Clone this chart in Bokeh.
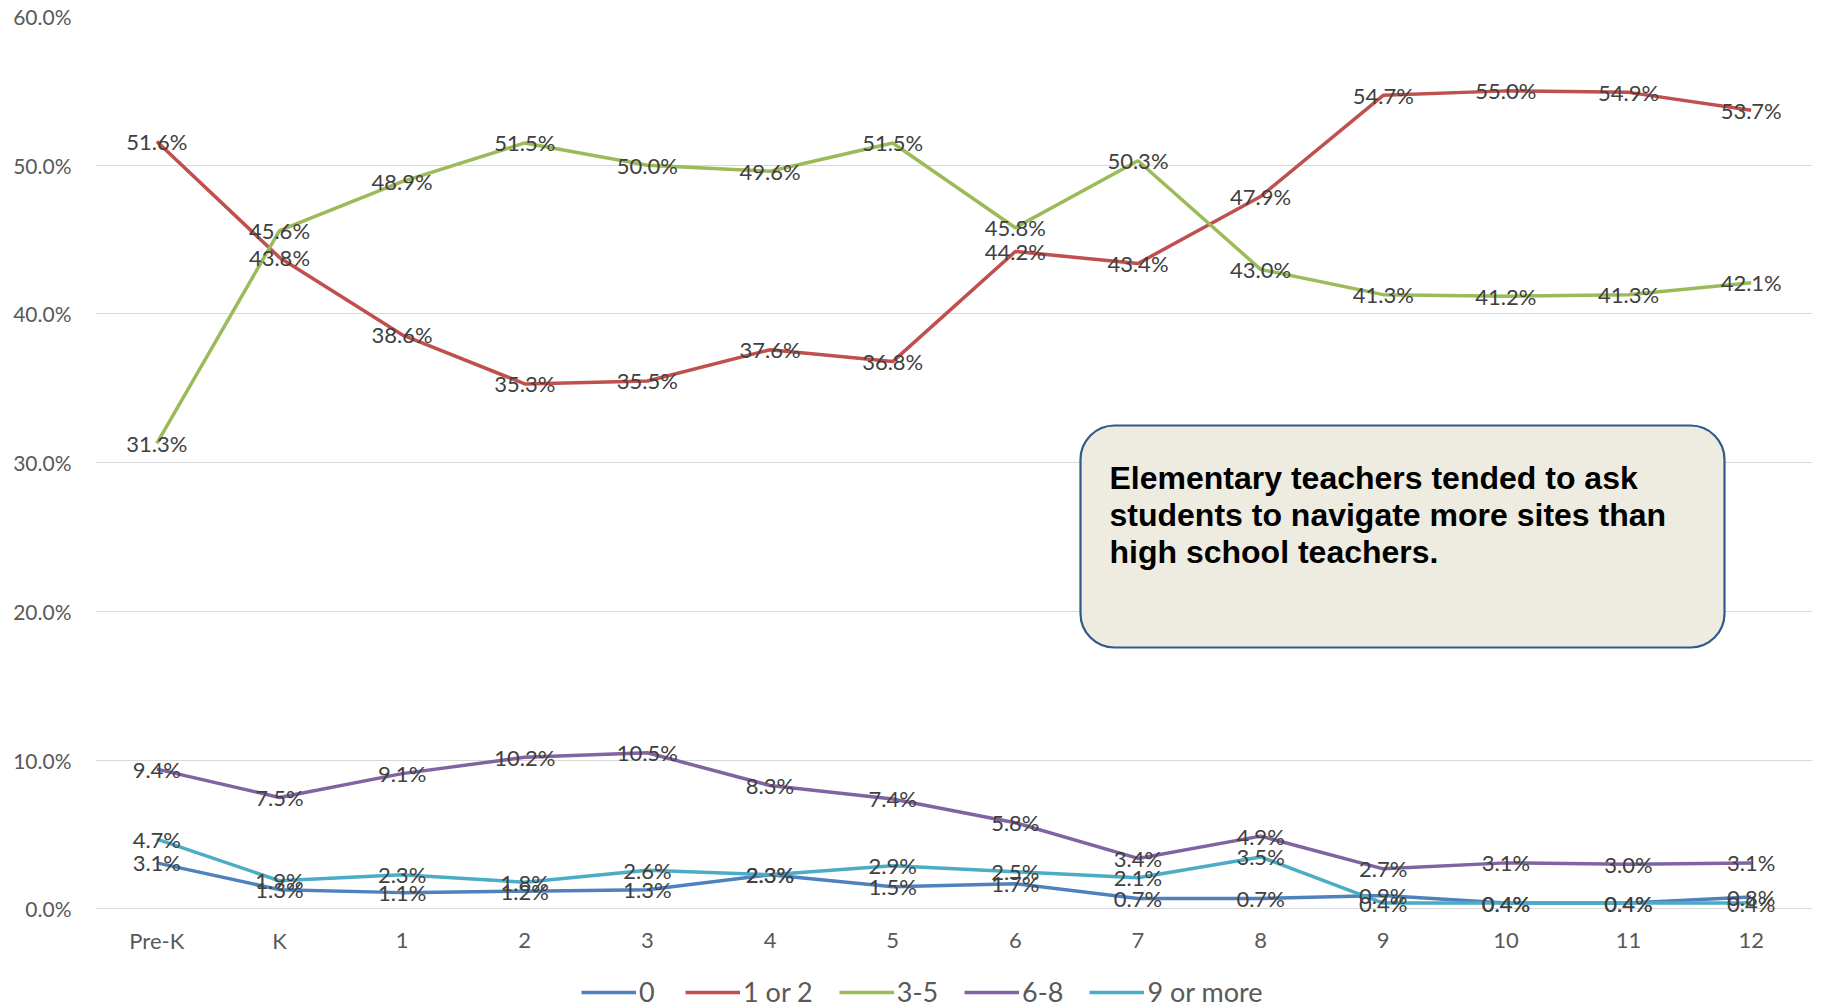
from bokeh.plotting import figure
from bokeh.models import (ColumnDataSource, FactorRange, Range1d, FixedTicker,
                          PrintfTickFormatter, LabelSet, Legend, LegendItem,
                          BoxAnnotation, Label)
from bokeh.core.properties import value
from bokeh.embed import file_html
from bokeh.resources import INLINE

# ---------------- data ----------------
grades = ["Pre-K", "K", "1", "2", "3", "4", "5", "6", "7", "8", "9", "10", "11", "12"]
series_names = ["0", "1 or 2", "3-5", "6-8", "9 or more"]
v_0 = [3.1, 1.3, 1.1, 1.2, 1.3, 2.3, 1.5, 1.7, 0.7, 0.7, 0.9, 0.4, 0.4, 0.8]
v_1or2 = [51.6, 43.8, 38.6, 35.3, 35.5, 37.6, 36.8, 44.2, 43.4, 47.9, 54.7, 55.0, 54.9, 53.7]
v_3to5 = [31.3, 45.6, 48.9, 51.5, 50.0, 49.6, 51.5, 45.8, 50.3, 43.0, 41.3, 41.2, 41.3, 42.1]
v_6to8 = [9.4, 7.5, 9.1, 10.2, 10.5, 8.3, 7.4, 5.8, 3.4, 4.9, 2.7, 3.1, 3.0, 3.1]
v_9plus = [4.7, 1.9, 2.3, 1.8, 2.6, 2.3, 2.9, 2.5, 2.1, 3.5, 0.4, 0.4, 0.4, 0.4]
y_ticks = [0, 10, 20, 30, 40, 50, 60]
note_lines = ["Elementary teachers tended to ask",
              "students to navigate more sites than",
              "high school teachers."]

series_values = [v_0, v_1or2, v_3to5, v_6to8, v_9plus]
colors = ["#4F81BD", "#C0504D", "#9BBB59", "#8064A2", "#4BACC6"]

FONT = "Lato"

# plot frame runs to the bottom of the canvas; the space under 0% holds the
# category labels and the legend
p = figure(width=1824, height=1008,
           x_range=FactorRange(*grades, range_padding=0),
           y_range=Range1d(-6.69, 60),
           x_axis_location=None,
           output_backend="svg", toolbar_location=None, title=None,
           min_border_left=95, min_border_right=12, min_border_top=16,
           min_border_bottom=0)
p.outline_line_color = None
p.background_fill_color = "white"
p.border_fill_color = "white"

# y axis
p.yaxis.ticker = FixedTicker(ticks=y_ticks)
p.yaxis.formatter = PrintfTickFormatter(format="%.1f%%")
p.yaxis.axis_line_color = None
p.yaxis.major_tick_line_color = None
p.yaxis.minor_tick_line_color = None
p.yaxis.major_label_standoff = 18
p.yaxis.major_label_text_font = FONT
p.yaxis.major_label_text_font_size = "21px"
p.yaxis.major_label_text_color = "#595959"

p.xgrid.grid_line_color = None
p.ygrid.ticker = FixedTicker(ticks=y_ticks)
p.ygrid.grid_line_color = "#D9D9D9"
p.ygrid.grid_line_width = 1

data = {"grade": grades, "zero": [0] * len(grades)}
for i, vals in enumerate(series_values):
    data[f"s{i}"] = vals
    data[f"s{i}_lbl"] = [f"{v:.1f}%" for v in vals]
src = ColumnDataSource(data)

# category labels under the 0% line
p.add_layout(LabelSet(x="grade", y="zero", text="grade", source=src, y_offset=-31.5,
                      text_align="center", text_baseline="middle",
                      text_font=value(FONT), text_font_size="22px",
                      text_color="#595959"))

renderers = []
for i, c in enumerate(colors):
    r = p.line(x="grade", y=f"s{i}", source=src, line_color=c, line_width=3.5)
    renderers.append(r)

for i in range(len(series_values)):
    ls = LabelSet(x="grade", y=f"s{i}", text=f"s{i}_lbl", source=src,
                  text_align="center", text_baseline="middle",
                  text_font=value(FONT), text_font_size="22px",
                  text_color="#404040")
    p.add_layout(ls)

# callout box (screen units, measured from the frame's bottom-left)
box = BoxAnnotation(left=985, right=1629, bottom=361, top=583,
                    left_units="screen", right_units="screen",
                    top_units="screen", bottom_units="screen",
                    fill_color="#EEECE1", fill_alpha=1.0,
                    line_color="#2E5A8E", line_alpha=1.0, line_width=2.2,
                    border_radius=34)
p.add_layout(box)
for k, line in enumerate(note_lines):
    p.add_layout(Label(x=1014, y=531 - 37 * k, x_units="screen", y_units="screen",
                       text=line, text_font="Liberation Sans", text_font_style="bold",
                       text_font_size="32px", text_color="black",
                       text_baseline="middle", text_align="left"))

legend = Legend(items=[LegendItem(label=n, renderers=[r]) for n, r in zip(series_names, renderers)],
                orientation="horizontal", location=(486, 0),
                glyph_width=55, glyph_height=20, label_standoff=3, spacing=26,
                padding=0, margin=0, border_line_color=None, background_fill_alpha=0,
                label_text_font=FONT, label_text_font_size="27px",
                label_text_color="#595959")
p.add_layout(legend)

open("out.html", "w").write(file_html(p, INLINE))
